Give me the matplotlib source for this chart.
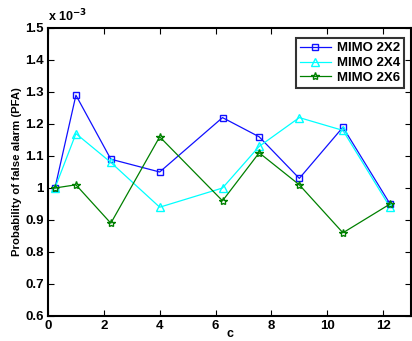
import matplotlib
matplotlib.use('Agg')
import matplotlib.pyplot as plt

plt.rcParams['font.family'] = 'Liberation Sans'
plt.rcParams['font.weight'] = 'bold'

# c values and PFA (x 10^-3)
c = [0.25, 1, 2.25, 4, 6.25, 7.5625, 9, 10.5625, 12.25]
pfa_2x2 = [1.00, 1.29, 1.09, 1.05, 1.22, 1.16, 1.03, 1.19, 0.95]
pfa_2x4 = [1.00, 1.17, 1.08, 0.94, 1.00, 1.13, 1.22, 1.18, 0.94]
pfa_2x6 = [1.00, 1.01, 0.89, 1.16, 0.96, 1.11, 1.01, 0.86, 0.95]
labels = ['MIMO 2X2', 'MIMO 2X4', 'MIMO 2X6']

fig = plt.figure(figsize=(4.12, 3.41), dpi=100)
ax = fig.add_axes([48/412, 1 - 316/341, 363/412, 288/341])

ax.plot(c, pfa_2x2, color='#1010ff', marker='s', markersize=5, mfc='none', lw=0.9, label=labels[0])
ax.plot(c, pfa_2x4, color='#00ffff', marker='^', markersize=6, mfc='none', lw=0.9, label=labels[1])
ax.plot(c, pfa_2x6, color='#008000', marker='*', markersize=6, mfc='none', lw=0.9, label=labels[2])

ax.set_xlim(0, 13)
ax.set_ylim(0.6, 1.5)
ax.set_xticks([0, 2, 4, 6, 8, 10, 12])
ax.set_yticks([0.6, 0.7, 0.8, 0.9, 1.0, 1.1, 1.2, 1.3, 1.4, 1.5])
ax.set_yticklabels(['0.6', '0.7', '0.8', '0.9', '1', '1.1', '1.2', '1.3', '1.4', '1.5'])
ax.tick_params(direction='in', top=True, right=True, labelsize=9.5, width=0.8, length=4, pad=3)
for s in ax.spines.values():
    s.set_linewidth(1.5)

ax.set_xlabel('c', fontsize=9, fontweight='bold')
ax.xaxis.set_label_coords(0.5, -0.043)
ax.set_ylabel('Probability of false alarm (PFA)', fontsize=8.2, fontweight='bold', labelpad=2)
ax.text(0, 1.012, r'x 10$^{-3}$', transform=ax.transAxes, fontsize=9, fontweight='bold', va='bottom')

leg = ax.legend(loc='upper right', fontsize=9.5, frameon=True, fancybox=False,
                borderpad=0.3, handlelength=2.4, handletextpad=0.4, labelspacing=0.2,
                borderaxespad=0, bbox_to_anchor=(0.98, 0.965))
leg.get_frame().set_edgecolor('black')
leg.get_frame().set_linewidth(1.5)

fig.savefig('out.png', dpi=100)
